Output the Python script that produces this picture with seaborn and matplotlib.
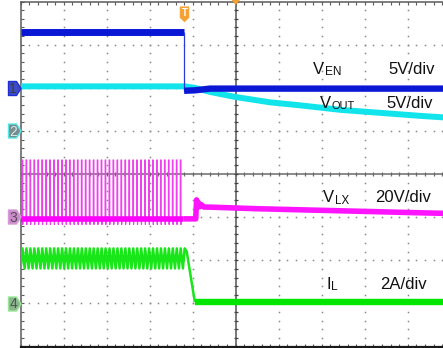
import numpy as np
import pandas as pd
import matplotlib
matplotlib.use("Agg")
import matplotlib.pyplot as plt
from matplotlib.patches import Polygon
import seaborn as sns

sns.set_style("white")
plt.rcParams["font.family"] = ["Liberation Sans", "DejaVu Sans"]

# ---------------------------------------------------------------------------
# Channel setup: units per division and ground marker position (divisions)
# ---------------------------------------------------------------------------
scale = {"VEN": 5.0, "VOUT": 5.0, "VLX": 20.0, "IL": 2.0}
ground = {"VEN": 2.0, "VOUT": 1.0, "VLX": -1.0, "IL": -3.0}

# Time is measured in screen divisions (10 across)
# V_EN: enable high, pulled low at the trigger
ven_high_t = [0.0, 3.80]
ven_high_v = [6.5, 6.5]
ven_low_t = [3.80, 4.05, 4.40, 10.0]
ven_low_v = [-0.35, -0.3, -0.1, -0.1]

# V_OUT: regulated, then discharging once the converter is disabled
vout_t = [0.0, 3.82, 4.05, 4.40, 4.98, 5.80, 6.50, 7.43, 8.36, 9.29, 9.82, 10.0]
vout_v = [5.16, 5.16, 4.99, 4.52, 3.94, 3.31, 2.96, 2.44, 2.09, 1.74, 1.57, 1.52]

# V_LX: switching node pulses while enabled
sw_period = 0.092      # div
sw_first = 0.03        # div
sw_last = 3.78         # div
pulse_width = 0.016    # div
lx_peak = 26.5         # V
lx_undershoot = -3.4   # V
lx_base = -0.8         # V
# V_LX once switching stops
lx_after_t = [3.78, 4.07, 4.09, 4.11, 4.13, 4.16, 4.20, 4.26, 4.60, 5.50, 6.50, 7.50, 8.50, 9.50, 10.0]
lx_after_v = [-0.8, -0.8, 8.0, 5.0, 6.8, 4.8, 5.8, 4.7, 4.5, 3.9, 3.4, 2.9, 2.4, 1.9, 1.7]

# I_L: inductor ripple while switching, then decaying to zero
il_peak = 2.55         # A
il_valley = 1.62       # A
il_rise_frac = 0.45
il_ramp_t = [3.86, 4.05]
il_ramp_v = [2.41, 0.06]
il_after_t = [4.05, 10.0]
il_after_v = [0.06, 0.06]

# Text annotations
labels = [("V", "EN", "5V/div"), ("V", "OUT", "5V/div"), ("V", "LX", "20V/div"), ("I", "L", "2A/div")]

# ---------------------------------------------------------------------------
W, H = 443, 348
fig = plt.figure(figsize=(W / 100, H / 100), dpi=100)
fig.patch.set_facecolor("white")
ax = fig.add_axes([20.7 / W, 1.5 / H, 430 / W, 345 / H])
ax.set_xlim(0, 10)
ax.set_ylim(-4, 4)
ax.set_facecolor("white")


def to_div(vals, ch):
    return np.asarray(vals, dtype=float) / scale[ch] + ground[ch]


def trace(t, v, ch, color, lw, z):
    df = pd.DataFrame({"t": np.asarray(t, float), "y": to_div(v, ch)})
    sns.lineplot(data=df, x="t", y="y", ax=ax, color=color, linewidth=lw, estimator=None,
                 sort=False, legend=False, zorder=z, solid_capstyle="butt")


# graticule: dotted division lines
dot_kw = dict(ls="none", marker="s", ms=1.1, mew=0, color="#8a8a8a", zorder=1)
fine = np.arange(0, 50.5, 1) / 5
for gx in [1, 2, 3, 4, 6, 7, 8, 9]:
    ax.plot(np.full(41, gx), np.arange(-20, 21) / 5, **dot_kw)
for gy in [-3, -2, -1, 1, 2, 3]:
    ax.plot(fine, np.full(fine.size, gy), **dot_kw)
# centre cross with minor ticks
ax.axhline(0, color="#777777", lw=1.2, zorder=1)
ax.axvline(5, color="#555555", lw=1.1, zorder=1)
ax.plot(fine, np.zeros(fine.size), ls="none", marker="|", ms=3.2, mew=0.9, color="#6a6a6a", zorder=1)
ax.plot(np.full(41, 5.0), np.arange(-20, 21) / 5, ls="none", marker="_", ms=3.4, mew=0.9,
        color="#444444", zorder=1)

# frame with inward ticks
for side in ["left", "top", "bottom", "right"]:
    ax.spines[side].set_visible(True)
ax.spines["left"].set_color("#5a5a5a")
ax.spines["left"].set_linewidth(1.1)
ax.spines["top"].set_color("#5a5a5a")
ax.spines["top"].set_linewidth(1.1)
ax.spines["bottom"].set_color("#1a1a1a")
ax.spines["bottom"].set_linewidth(1.6)
ax.spines["right"].set_color("#5a5a5a")
ax.set_xticks(np.arange(0, 11, 1))
ax.set_xticks(fine, minor=True)
ax.set_yticks(np.arange(-4, 5, 1))
ax.set_yticks(np.arange(-20, 21) / 5, minor=True)
ax.tick_params(which="both", direction="in", length=2.2, width=0.8, color="#5a5a5a",
               top=True, bottom=True, left=True, right=False,
               labelbottom=False, labelleft=False)
ax.set_xlabel("")
ax.set_ylabel("")

# ---- V_LX pulses (drawn under the baseline band)
starts = np.arange(sw_first, sw_last, sw_period)
pt, pv = [], []
for s in starts:
    pt += [s, s + 0.002, s + pulse_width, s + pulse_width + 0.002, s + pulse_width + 0.006]
    pv += [lx_base, lx_peak, lx_peak, lx_undershoot, lx_base]
trace(pt, pv, "VLX", "#ee40ee", 0.85, 3)
trace([0.0, sw_last], [lx_base, lx_base], "VLX", "#ff00ff", 4.0, 4)
trace(lx_after_t, lx_after_v, "VLX", "#ff14ff", 4.0, 4)

# ---- I_L ripple, ramp down and zero level
it, iv = [], []
for s in np.arange(0.0, il_ramp_t[0], sw_period):
    it += [s, s + il_rise_frac * sw_period]
    iv += [il_valley, il_peak]
it += il_ramp_t
iv += il_ramp_v
trace(it, iv, "IL", "#19e619", 1.8, 4)
trace(il_after_t, il_after_v, "IL", "#00e600", 4.6, 4)

# ---- V_OUT
trace(vout_t, vout_v, "VOUT", "#12e4ec", 4.3, 5)

# ---- V_EN
trace(ven_high_t, ven_high_v, "VEN", "#0a18d6", 5.0, 6)
trace([3.80, 3.80], [ven_high_v[-1], ven_low_v[0]], "VEN", "#2a3ad8", 0.9, 6)
trace(ven_low_t, ven_low_v, "VEN", "#0a18d6", 4.6, 6)


# ---------------------------------------------------------------------------
def fp(x, y):
    return (x / W, 1 - y / H)


# channel reference markers
markers = [
    (88.5, "1", "#3e4cc4", "#1e2ed4", "#3a3a4a"),
    (131.0, "2", "#7b8b8b", "#55eaea", "#c8eeee"),
    (217.0, "3", "#c98cc9", "#d89ad8", "#5a4a5a"),
    (304.0, "4", "#8db58d", "#98e898", "#4a5a4a"),
]
for cy, num, fill, edge, txt in markers:
    pts = [fp(8.5, cy - 7), fp(16.5, cy - 7), fp(21, cy), fp(16.5, cy + 7), fp(8.5, cy + 7)]
    fig.add_artist(Polygon(pts, closed=True, transform=fig.transFigure, facecolor=fill,
                           edgecolor=edge, lw=1.0, joinstyle="round", zorder=10))
    fig.add_artist(plt.Text(*fp(13.0, cy + 0.5), num, color=txt, fontsize=10, ha="center",
                            va="center", zorder=12, transform=fig.transFigure))

# trigger markers
tp = [fp(180.3, 7), fp(188.7, 7), fp(188.7, 17.5), fp(184.5, 21.5), fp(180.3, 17.5)]
fig.add_artist(Polygon(tp, closed=True, transform=fig.transFigure, facecolor="#f5a133",
                       edgecolor="#f5a133", lw=0.8, joinstyle="round", zorder=10))
fig.add_artist(plt.Text(*fp(184.5, 13), "T", color="white", fontsize=7, fontweight="bold",
                        ha="center", va="center", zorder=12, transform=fig.transFigure))
tri = [fp(232.2, 0), fp(239.2, 0), fp(235.7, 4.5)]
fig.add_artist(Polygon(tri, closed=True, transform=fig.transFigure, facecolor="#f5a133",
                       edgecolor="#f5a133", lw=0.6, zorder=10))

# trace annotations
main_fs = 12
sub_fs = [8.6, 7.9, 8.3, 8.6]
anchors = [(313, 74, 388, 74), (320, 108, 386, 108), (323, 202.5, 375, 202), (327, 289, 380, 289)]
for (big, sub, div), (x0, yb, xd, ydb), sfs in zip(labels, anchors, sub_fs):
    fig.text(*fp(x0, yb), big, fontsize=main_fs, color="#111111", va="baseline", ha="left")
    adv = {"V": 11.6, "I": 4.2}[big]
    fig.text(*fp(x0 + adv, yb + 1.0), sub, fontsize=sfs, color="#111111", va="baseline", ha="left")
    fig.text(*fp(xd, ydb), div, fontsize=main_fs, color="#111111", va="baseline", ha="left")

fig.savefig("out.png", dpi=100, facecolor="white")
